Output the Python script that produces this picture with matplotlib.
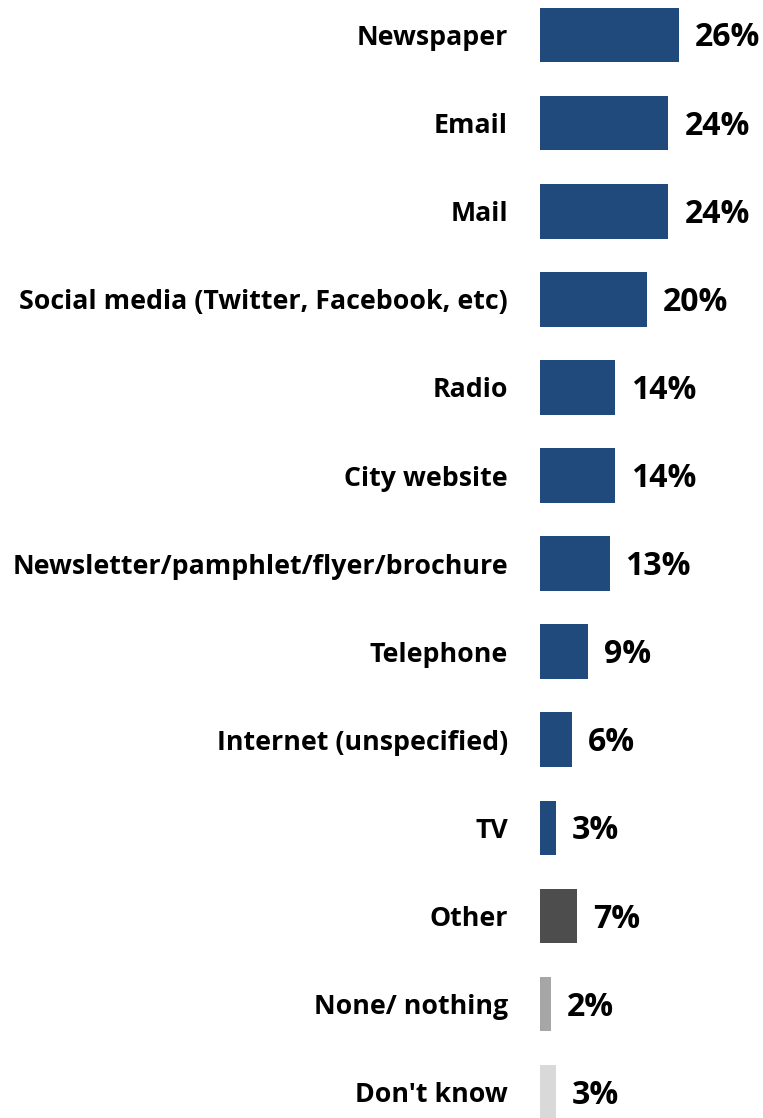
import matplotlib
matplotlib.use("Agg")
import matplotlib.pyplot as plt
from matplotlib.transforms import offset_copy

categories = ["Newspaper", "Email", "Mail", "Social media (Twitter, Facebook, etc)",
              "Radio", "City website", "Newsletter/pamphlet/flyer/brochure",
              "Telephone", "Internet (unspecified)", "TV", "Other",
              "None/ nothing", "Don't know"]
values = [26, 24, 24, 20, 14, 14, 13, 9, 6, 3, 7, 2, 3]
value_labels = ["26%", "24%", "24%", "20%", "14%", "14%", "13%", "9%", "6%",
                "3%", "7%", "2%", "3%"]

BLUE = "#214A7C"
colors = [BLUE] * 10 + ["#4D4D4D", "#A6A6A6", "#D9D9D9"]

plt.rcParams['font.family'] = ['Open Sans', 'DejaVu Sans']

fig = plt.figure(figsize=(7.63, 11.18), dpi=100)
ax = fig.add_axes([540 / 763, 0, 223 / 763, 1])

pos = list(range(len(categories)))
ax.barh(pos, values, height=0.62, color=colors)

ax.set_xlim(0, 223 / 5.35)
ax.set_ylim((1118 - 35) / 88.1, -35 / 88.1)

ax.set_yticks(pos)
ax.set_yticklabels(categories, fontsize=19.3, fontweight='bold')
ax.tick_params(axis='y', length=0, pad=23)
ax.set_xticks([])
for s in ax.spines.values():
    s.set_visible(False)

# value labels just right of each bar
trans = offset_copy(ax.transData, fig=fig, x=16, y=-3, units='dots')
for p, v, lab in zip(pos, values, value_labels):
    ax.text(v, p, lab, transform=trans, ha='left', va='center',
            fontsize=23, fontweight='bold')

fig.savefig("out.png", dpi=100)
